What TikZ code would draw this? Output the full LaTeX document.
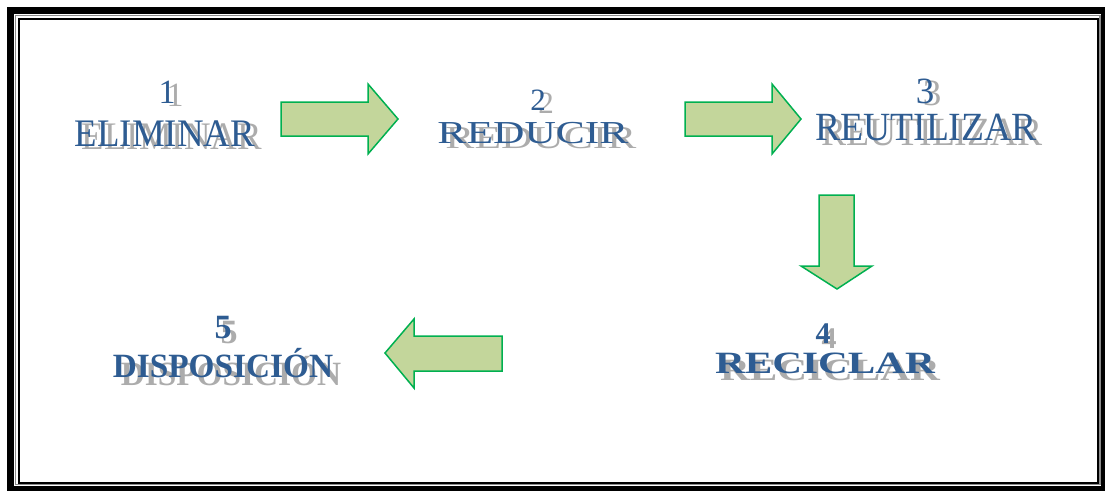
\documentclass[tikz,border=0pt]{standalone}
\usepackage{fontspec}
\setmainfont{Liberation Serif}
\definecolor{txtblue}{RGB}{46,92,146}
\definecolor{shgray}{RGB}{172,172,172}
\definecolor{arrfill}{RGB}{195,214,155}
\definecolor{arrline}{RGB}{0,176,80}
\tikzset{
  lbl/.style={inner sep=0pt, anchor=base, text=txtblue},
  shd/.style={inner sep=0pt, anchor=base, text=shgray},
  blockarrow/.style={draw=arrline, fill=arrfill, line width=1.5pt, line join=miter},
  frameouter/.style={draw=black, line width=7pt},
  framegray/.style={draw=black!45, line width=1.5pt},
  frameinner/.style={draw=black, line width=2pt}
}
\begin{document}
\begin{tikzpicture}[x=1pt, y=-1pt]
\useasboundingbox[fill=white] (0,0) rectangle (1105,490);
% frame
\draw[frameouter] (10.5,10.5) rectangle (1104.5,489.5);
\draw[framegray] (15.5,15.5) rectangle (1100.2,484.6);
\draw[frameinner] (19,19) rectangle (1097.8,482.5);

% 1 ELIMINAR
\node[shd, font=\fontsize{34}{34}\selectfont] (n1s) at (175,106) {1};
\node[lbl, font=\fontsize{34}{34}\selectfont] (n1) at (167,103) {1};
\node[shd, font=\fontsize{39}{39}\selectfont] (t1s) at (172,149) {\scalebox{0.945}[1]{ELIMINAR}};
\node[lbl, font=\fontsize{39}{39}\selectfont] (t1) at (165,146) {\scalebox{0.945}[1]{ELIMINAR}};

% 2 REDUCIR
\node[shd, font=\fontsize{31}{31}\selectfont] (n2s) at (546,113) {2};
\node[lbl, font=\fontsize{31}{31}\selectfont] (n2) at (538,110) {2};
\node[shd, font=\fontsize{32}{32}\selectfont] (t2s) at (541,148) {\scalebox{1.36}[1]{REDUCIR}};
\node[lbl, font=\fontsize{32}{32}\selectfont] (t2) at (533,143) {\scalebox{1.36}[1]{REDUCIR}};

% 3 REUTILIZAR
\node[shd, font=\fontsize{37}{37}\selectfont] (n3s) at (932,105) {3};
\node[lbl, font=\fontsize{37}{37}\selectfont] (n3) at (925,103) {3};
\node[shd, font=\fontsize{40}{40}\selectfont] (t3s) at (932,145) {\scalebox{0.94}[1]{REUTILIZAR}};
\node[lbl, font=\fontsize{40}{40}\selectfont] (t3) at (926,140) {\scalebox{0.94}[1]{REUTILIZAR}};

% 4 RECICLAR
\node[shd, font=\bfseries\fontsize{30}{30}\selectfont] (n4s) at (829,348) {4};
\node[lbl, font=\bfseries\fontsize{30}{30}\selectfont] (n4) at (823,343) {4};
\node[shd, font=\bfseries\fontsize{31}{31}\selectfont] (t4s) at (830,380) {\scalebox{1.33}[1]{RECICLAR}};
\node[lbl, font=\bfseries\fontsize{31}{31}\selectfont] (t4) at (825,373) {\scalebox{1.33}[1]{RECICLAR}};

% 5 DISPOSICION
\node[shd, font=\bfseries\fontsize{34}{34}\selectfont] (n5s) at (229,343) {5};
\node[lbl, font=\bfseries\fontsize{34}{34}\selectfont] (n5) at (223,338) {5};
\node[shd, font=\bfseries\fontsize{34}{34}\selectfont] (t5s) at (231,385) {\scalebox{0.98}[1]{DISPOSICIÓN}};
\node[lbl, font=\bfseries\fontsize{34}{34}\selectfont] (t5) at (223,377) {\scalebox{0.98}[1]{DISPOSICIÓN}};

% block arrows
\draw[blockarrow] (281,102) -- (368,102) -- (368,84) -- (398,119) -- (368,154) -- (368,136) -- (281,136) -- cycle;
\draw[blockarrow] (685,102) -- (772,102) -- (772,84) -- (801,119) -- (772,154) -- (772,136) -- (685,136) -- cycle;
\draw[blockarrow] (819,195) -- (854,195) -- (854,266) -- (872,266) -- (837,289) -- (801,266) -- (819,266) -- cycle;
\draw[blockarrow] (502,336) -- (414,336) -- (414,319) -- (385,353) -- (414,388) -- (414,371) -- (502,371) -- cycle;
\end{tikzpicture}
\end{document}
